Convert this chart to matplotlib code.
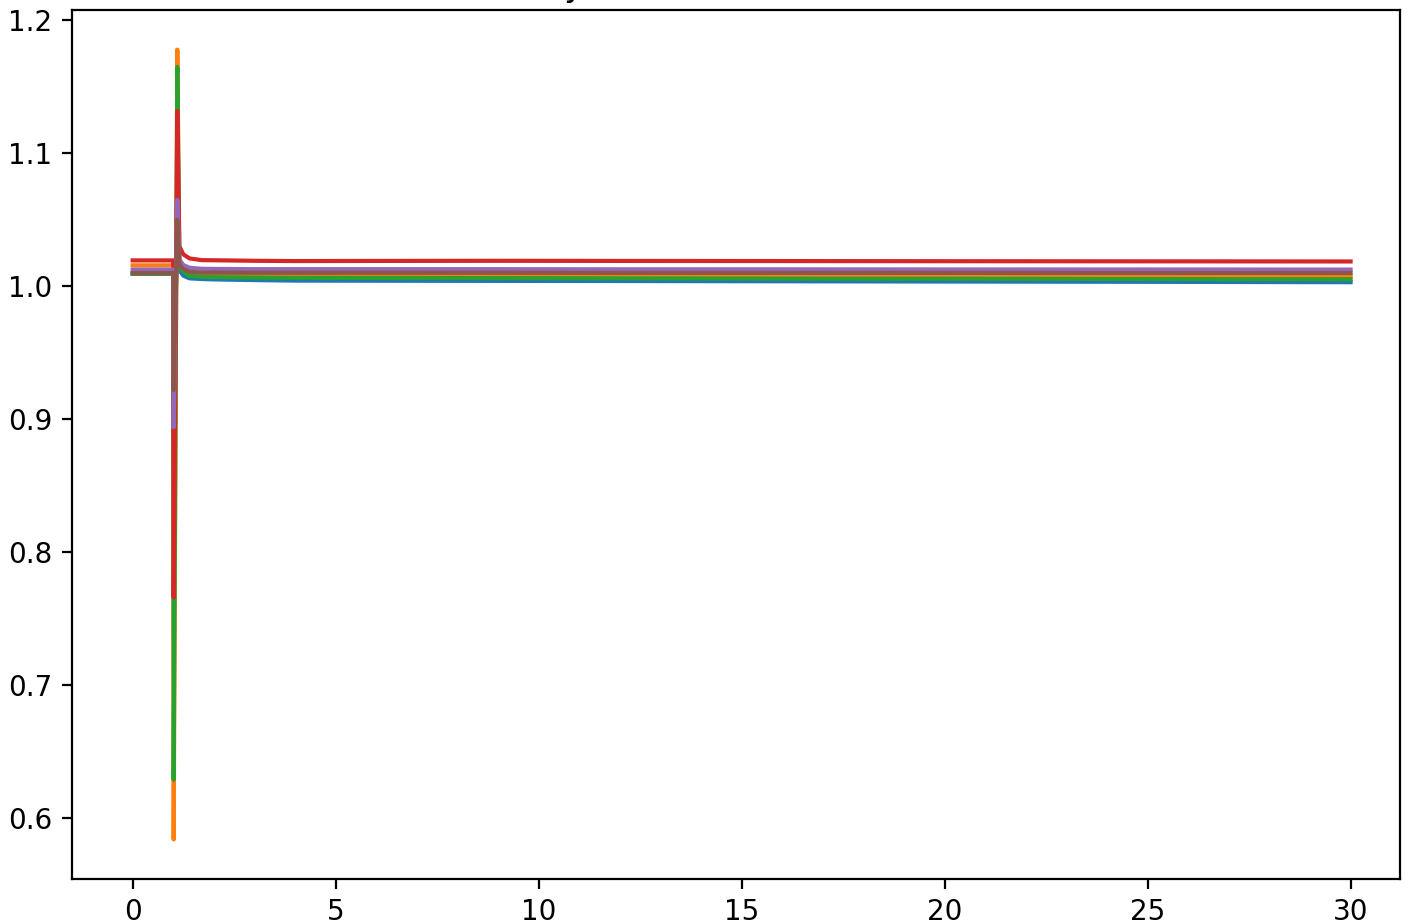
import matplotlib
matplotlib.use("Agg")
import matplotlib.pyplot as plt

# time points (s) shared by every series
t = [0.0, 1.0, 1.01, 1.10, 1.15, 1.25, 1.4, 1.7, 2.0, 3.0, 4.0, 6.0, 9.0, 12.0, 16.0, 20.0, 25.0, 30.0]

# one series per bus (pu)
bus1 = [1.0094, 1.0094, 0.930, 1.040, 1.012, 1.008, 1.006, 1.0055, 1.0052, 1.0047, 1.0043, 1.0042, 1.0041, 1.0040, 1.0038, 1.0036, 1.0034, 1.0031]
bus2 = [1.0158, 1.0158, 0.584, 1.178, 1.020, 1.013, 1.010, 1.0090, 1.0088, 1.0086, 1.0084, 1.0083, 1.0083, 1.0082, 1.0080, 1.0079, 1.0077, 1.0075]
bus3 = [1.0095, 1.0095, 0.629, 1.165, 1.016, 1.011, 1.008, 1.0072, 1.0069, 1.0066, 1.0064, 1.0063, 1.0062, 1.0060, 1.0058, 1.0057, 1.0055, 1.0053]
bus4 = [1.0195, 1.0195, 0.766, 1.132, 1.030, 1.024, 1.021, 1.0197, 1.0196, 1.0192, 1.0190, 1.0191, 1.0192, 1.0191, 1.0190, 1.0189, 1.0188, 1.0187]
bus5 = [1.0126, 1.0126, 0.894, 1.065, 1.020, 1.016, 1.014, 1.0132, 1.0131, 1.0129, 1.0129, 1.0129, 1.0129, 1.0128, 1.0128, 1.0127, 1.0127, 1.0126]
bus6 = [1.0100, 1.0100, 0.922, 1.050, 1.016, 1.013, 1.011, 1.0104, 1.0103, 1.0102, 1.0102, 1.0102, 1.0102, 1.0101, 1.0101, 1.0101, 1.0100, 1.0100]

fig = plt.figure(figsize=(7.055, 4.615), dpi=200)
ax = fig.add_axes([0.051, 0.0477, 0.941, 0.9413])

for serie in [bus1, bus2, bus3, bus4, bus5, bus6]:
    ax.plot(t, serie)

ax.set_xlim(-1.495, 31.21)
ax.set_title("Synchronous machines", pad=5)

fig.savefig("out.png", dpi=200)
